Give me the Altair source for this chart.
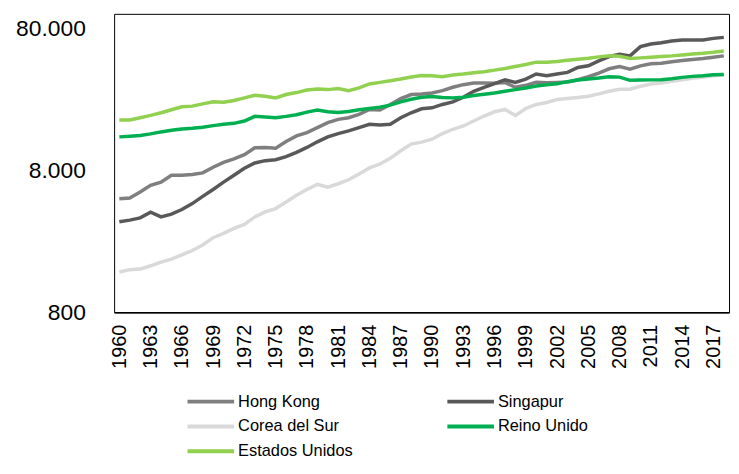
import altair as alt
import pandas as pd

years = list(range(1960, 2019))

hong_kong = [5070, 5120, 5645, 6290, 6630, 7420, 7420, 7500, 7710, 8440,
             9150, 9660, 10350, 11580, 11650, 11520, 12830, 14060, 14830, 16070,
             17420, 18380, 18880, 19930, 21590, 21370, 23410, 25770, 27500, 27790,
             28240, 29320, 30940, 32290, 33180, 33180, 33000, 33500, 30940, 31950,
             33530, 33360, 33500, 33710, 35000, 36730, 38970, 41790, 43380, 41570,
             43850, 45290, 45780, 46780, 47790, 48570, 49340, 50450, 51550]

singapur = [3480, 3580, 3710, 4070, 3770, 3940, 4250, 4680, 5260, 5890,
            6630, 7420, 8300, 9050, 9400, 9550, 10020, 10750, 11650, 12760,
            13830, 14590, 15230, 16070, 16960, 16780, 16960, 18880, 20460, 21830,
            22180, 23410, 24440, 26330, 29010, 30940, 32820, 35000, 33530, 35380,
            38370, 37350, 38370, 39390, 42700, 43850, 47540, 50990, 52930, 51550,
            59870, 62500, 63860, 65600, 66660, 66660, 66800, 68470, 69600]

corea_del_sur = [1540, 1600, 1615, 1705, 1810, 1900, 2035, 2185, 2390, 2690,
                 2885, 3130, 3335, 3770, 4090, 4315, 4800, 5350, 5890, 6390,
                 6120, 6460, 6890, 7580, 8350, 8900, 9760, 11040, 12290, 12700,
                 13320, 14590, 15650, 16510, 17900, 19400, 20790, 21590, 19600, 21940,
                 23410, 24180, 25370, 25770, 26200, 26760, 27790, 29010, 29960, 29960,
                 31430, 32650, 33180, 34080, 35000, 35770, 36540, 37350, 37940]

reino_unido = [13830, 13980, 14130, 14520, 14990, 15400, 15730, 15900, 16160, 16600,
               16960, 17230, 17900, 19300, 19090, 18880, 19300, 19820, 20680, 21370,
               20790, 20570, 20900, 21470, 21940, 22420, 23150, 24430, 25500, 26330,
               26610, 26190, 26050, 26330, 27050, 27640, 28240, 29010, 29800, 30610,
               31610, 32290, 32820, 33900, 34810, 35380, 35960, 36730, 36500, 34630,
               34800, 34900, 35000, 35570, 36340, 36940, 37330, 37940, 38150]

estados_unidos = [18190, 18190, 18880, 19600, 20460, 21470, 22540, 22780, 23650, 24440,
                  24300, 24960, 26060, 27200, 26760, 26060, 27500, 28400, 29630, 30130,
                  29800, 30300, 29300, 30630, 32650, 33530, 34450, 35360, 36540, 37520,
                  37350, 36730, 37760, 38370, 39200, 39840, 40900, 42000, 43380, 44800,
                  46550, 46550, 47060, 48030, 48780, 49610, 50700, 51550, 51200, 49340,
                  49880, 50450, 50990, 51550, 52340, 53200, 53750, 54650, 55850]

series_names = ["Hong Kong", "Singapur", "Corea del Sur", "Reino Unido", "Estados Unidos"]
series_values = [hong_kong, singapur, corea_del_sur, reino_unido, estados_unidos]
series_colors = {"Hong Kong": "#7f7f7f", "Singapur": "#595959", "Corea del Sur": "#d9d9d9",
                 "Reino Unido": "#00b050", "Estados Unidos": "#92d050"}
# legend fills column by column: order so that it reads row by row
legend_order = ["Hong Kong", "Corea del Sur", "Estados Unidos", "Singapur", "Reino Unido"]

x_tick_values = list(range(1960, 2018, 3))
y_tick_values = [800, 8000, 80000]

rows = []
for i, (name, vals) in enumerate(zip(series_names, series_values)):
    for yr, v in zip(years, vals):
        rows.append({"year": yr, "value": v, "country": name, "k": i})
df = pd.DataFrame(rows)

FONT = "Liberation Sans"

chart = alt.Chart(df).mark_line(strokeWidth=3.5).encode(
    x=alt.X(
        "year:Q",
        scale=alt.Scale(domain=[1959.5, 2018.5], nice=False, zero=False),
        axis=alt.Axis(
            values=x_tick_values, format="d", labelAngle=-90, title=None,
            grid=False, ticks=False, tickSize=0, labelPadding=12,
            labelFontSize=20, labelFont=FONT, labelColor="black",
            domainColor="black", domainWidth=1.5,
            labelOverlap=False, labelFlush=False,
        ),
    ),
    y=alt.Y(
        "value:Q",
        scale=alt.Scale(type="log", domain=[800, 102000], nice=False),
        axis=alt.Axis(
            values=y_tick_values, title=None, grid=False, ticks=False, tickSize=0,
            domain=False, labelPadding=29, labelFontSize=23, labelFont=FONT,
            labelColor="black", labelOverlap=False, labelFlush=False,
            labelExpr="replace(format(datum.value, ','), ',', '.')",
        ),
    ),
    color=alt.Color(
        "country:N",
        scale=alt.Scale(domain=legend_order, range=[series_colors[n] for n in legend_order]),
        legend=alt.Legend(
            title=None, orient="none", legendX=72, legendY=381,
            columns=2, symbolType="M-1,0L1,0", symbolSize=2209,
            symbolStrokeWidth=4, clipHeight=20, labelFontSize=16.5,
            labelFont=FONT, labelColor="black", labelOffset=2,
            rowPadding=5, columnPadding=93, padding=0,
        ),
    ),
    detail="k:O",
).properties(
    width=620, height=301,
    padding={"left": 7, "top": 4, "right": 0, "bottom": 0},
).configure_view(
    stroke="black", strokeWidth=1
)

chart.save("out.html", embed_options={"renderer": "svg", "actions": False})
